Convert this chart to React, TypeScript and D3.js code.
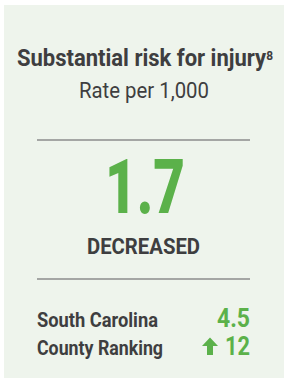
import { useEffect, useRef } from "react";
import * as d3 from "d3";

// Card content
const TITLE = ["Substantial risk for injury"];
const FOOTNOTE = ["8"];
const SUBTITLE = ["Rate per 1,000"];
const VALUE = [1.7];
const STATUS = ["DECREASED"];
const ROW_LABELS = ["South Carolina", "County Ranking"];
const ROW_VALUES = ["4.5", "12"];
const ROW_ARROWS = [false, true];

const W = 288;
const H = 381;
const GREEN = "#5bb14a";
const DARK = "#3e3e40";
const BG = "#eef4ec";
const RULE = "#a4a6a4";
const FONT = "Roboto, 'Liberation Sans', sans-serif";

export default function App() {
  const svgRef = useRef<SVGSVGElement>(null);

  useEffect(() => {
    if (!svgRef.current) return;
    const svg = d3.select(svgRef.current);
    svg.selectAll("*").remove();

    svg.append("rect")
      .attr("x", 4).attr("y", 5)
      .attr("width", W - 8).attr("height", H - 8)
      .attr("fill", BG);

    const g = svg.append("g").attr("font-family", FONT);

    // Header: title with superscript footnote in one text element
    const title = g.append("text")
      .attr("x", 17).attr("y", 66)
      .attr("font-size", 24).attr("font-weight", 700)
      .attr("fill", DARK)
      .attr("textLength", 256).attr("lengthAdjust", "spacingAndGlyphs");
    title.append("tspan").text(TITLE[0]);
    title.append("tspan")
      .attr("dy", -6).attr("font-size", 13)
      .text(FOOTNOTE[0]);

    g.append("text")
      .attr("x", 79).attr("y", 98)
      .attr("font-size", 22.5).attr("font-weight", 400)
      .attr("fill", DARK)
      .attr("textLength", 130).attr("lengthAdjust", "spacingAndGlyphs")
      .text(SUBTITLE[0]);

    // Dividers
    const ruleX = d3.scaleLinear().domain([0, 1]).range([37, 250]);
    [140, 279].forEach((yy) => {
      g.append("line")
        .attr("x1", ruleX(0)).attr("x2", ruleX(1))
        .attr("y1", yy).attr("y2", yy)
        .attr("stroke", RULE).attr("stroke-width", 2);
    });

    // Big number
    g.append("text")
      .attr("x", 105).attr("y", 212.5)
      .attr("font-size", 76).attr("font-weight", 900)
      .attr("fill", GREEN)
      .attr("textLength", 80).attr("lengthAdjust", "spacingAndGlyphs")
      .text(d3.format(".1f")(VALUE[0]));

    g.append("text")
      .attr("x", 87).attr("y", 254)
      .attr("font-size", 22).attr("font-weight", 700)
      .attr("fill", DARK)
      .attr("textLength", 113).attr("lengthAdjust", "spacingAndGlyphs")
      .text(STATUS[0]);

    // Comparison rows
    const rowY = d3.scalePoint<number>().domain([0, 1]).range([326.5, 355]);
    const labelW = [121, 126];
    const valueW = [33, 25];
    ROW_LABELS.forEach((lab, i) => {
      const y = rowY(i)!;
      g.append("text")
        .attr("x", 37).attr("y", y)
        .attr("font-size", 20).attr("font-weight", 700)
        .attr("fill", DARK)
        .attr("textLength", labelW[i]).attr("lengthAdjust", "spacingAndGlyphs")
        .text(lab);
      g.append("text")
        .attr("x", 250 - valueW[i]).attr("y", y)
        .attr("font-size", 25.5).attr("font-weight", 700)
        .attr("fill", GREEN)
        .attr("textLength", valueW[i]).attr("lengthAdjust", "spacingAndGlyphs")
        .text(ROW_VALUES[i]);
      if (ROW_ARROWS[i]) {
        // up arrow icon, 16 wide x 17 tall, bottom at baseline
        const ax = 210, top = y - 17.5, hw = 8, hh = 8.5, sw = 3;
        const p = d3.path();
        p.moveTo(ax, top);
        p.lineTo(ax + hw, top + hh);
        p.lineTo(ax + sw, top + hh);
        p.lineTo(ax + sw, y);
        p.lineTo(ax - sw, y);
        p.lineTo(ax - sw, top + hh);
        p.lineTo(ax - hw, top + hh);
        p.closePath();
        g.append("path").attr("d", p.toString()).attr("fill", GREEN);
      }
    });
  }, []);

  return (
    <svg
      ref={svgRef}
      width={W}
      height={H}
      style={{ position: "absolute", left: 0, top: 0, background: "#fff" }}
    />
  );
}
